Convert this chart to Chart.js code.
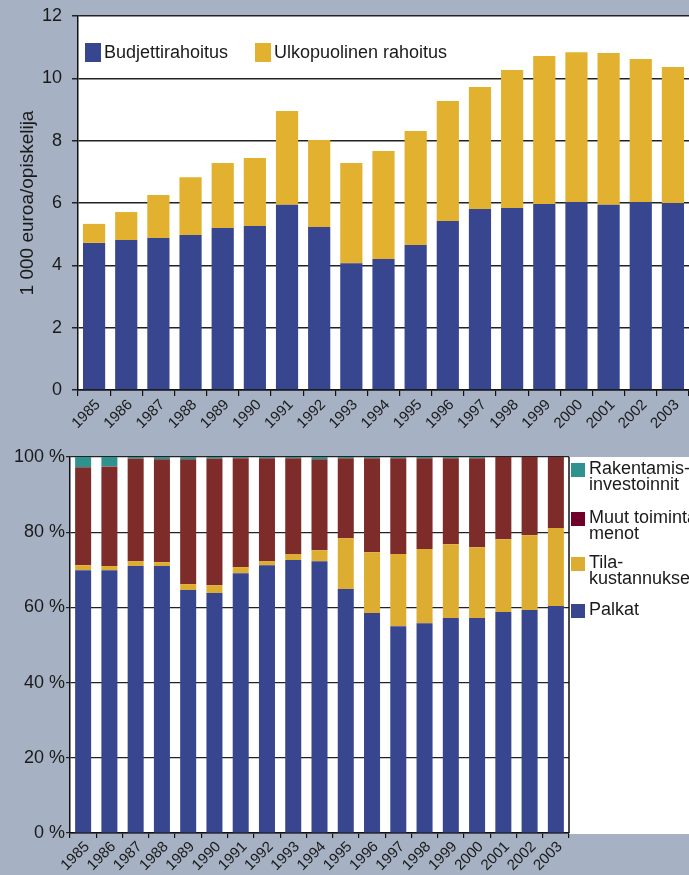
<!DOCTYPE html>
<html>
<head>
<meta charset="utf-8">
<script src="https://cdn.jsdelivr.net/npm/chart.js@4.4.1/dist/chart.umd.min.js"></script>
<style>
html, body { margin: 0; padding: 0; background: #a6b2c4; overflow: hidden; width: 689px; height: 875px;
  font-family: "Liberation Sans", Arial, sans-serif; color: #1a1a1a; }
#topBox { position: absolute; left: 0; top: 0; width: 689px; height: 440px; }
#bottomBox { position: absolute; left: 0; top: 440px; width: 689px; height: 435px; }
.item { position: absolute; white-space: nowrap; }
.sw { position: absolute; }
#sidePanel { position: absolute; left: 569px; top: 457px; width: 120px; height: 377px; background: #fff; }
</style>
</head>
<body>
<div id="topBox"><canvas id="topChart"></canvas></div>
<div id="sidePanel"></div>
<div id="bottomBox"><canvas id="bottomChart"></canvas></div>

<!-- top legend -->
<div class="sw" style="left:85px;top:43px;width:16px;height:19px;background:#38468f"></div>
<div class="item" style="left:104px;top:42px;font-size:18px;line-height:21px">Budjettirahoitus</div>
<div class="sw" style="left:255px;top:43px;width:16px;height:19px;background:#e1b12f"></div>
<div class="item" style="left:274px;top:42px;font-size:18px;line-height:21px">Ulkopuolinen rahoitus</div>

<!-- bottom legend -->
<div class="sw" style="left:571px;top:463px;width:14px;height:14px;background:#2e928f"></div>
<div class="item" style="left:589px;top:460px;font-size:18px;line-height:16px">Rakentamis-<br>investoinnit</div>
<div class="sw" style="left:571px;top:512px;width:14px;height:14px;background:#700028"></div>
<div class="item" style="left:589px;top:509px;font-size:18px;line-height:16px">Muut toiminta-<br>menot</div>
<div class="sw" style="left:571px;top:557px;width:14px;height:14px;background:#ddad31"></div>
<div class="item" style="left:589px;top:554px;font-size:18px;line-height:16px">Tila-<br>kustannukset</div>
<div class="sw" style="left:571px;top:604px;width:14px;height:14px;background:#38468f"></div>
<div class="item" style="left:589px;top:601px;font-size:18px;line-height:16px">Palkat</div>

<script>
const years = ["1985", "1986", "1987", "1988", "1989", "1990", "1991", "1992", "1993", "1994",
  "1995", "1996", "1997", "1998", "1999", "2000", "2001", "2002", "2003"];

// 1 000 euroa / opiskelija
const budjettirahoitus = [4.72, 4.81, 4.88, 4.97, 5.20, 5.26, 5.94, 5.23, 4.07, 4.20,
  4.65, 5.42, 5.81, 5.84, 5.97, 6.03, 5.94, 6.03, 6.00];
const ulkopuolinen = [0.61, 0.90, 1.38, 1.86, 2.08, 2.18, 3.01, 2.79, 3.21, 3.47,
  3.66, 3.85, 3.91, 4.43, 4.75, 4.81, 4.87, 4.59, 4.36];

// osuudet, %
const palkat = [69.9, 69.9, 71.0, 71.0, 64.6, 63.8, 69.1, 71.2, 72.6, 72.3,
  64.9, 58.5, 55.0, 55.8, 57.2, 57.2, 58.8, 59.3, 60.4];
const tilakustannukset = [1.3, 1.1, 1.3, 1.0, 1.6, 2.1, 1.6, 1.1, 1.6, 2.9,
  13.5, 16.2, 19.2, 19.7, 19.6, 18.8, 19.3, 19.9, 20.7];
const muutMenot = [26.1, 26.5, 27.3, 27.4, 33.2, 33.7, 29.0, 27.4, 25.5, 24.2,
  21.3, 25.0, 25.5, 24.2, 22.9, 23.7, 21.9, 20.8, 18.9];
const rakentamis = [2.7, 2.5, 0.4, 0.6, 0.6, 0.4, 0.3, 0.3, 0.3, 0.6,
  0.3, 0.3, 0.3, 0.3, 0.3, 0.3, 0, 0, 0];

const topTicks = [0, 2, 4, 6, 8, 10, 12];
const pctTicks = [0, 20, 40, 60, 80, 100];

Chart.defaults.font.family = '"Liberation Sans", Arial, sans-serif';
Chart.defaults.color = "#1a1a1a";
Chart.defaults.animation = false;
Chart.defaults.responsive = false;

const plotBg = {
  id: "plotBg",
  beforeDraw(chart) {
    const { ctx, chartArea: a } = chart;
    ctx.save();
    ctx.fillStyle = "#fff";
    ctx.fillRect(a.left, a.top, a.right - a.left, a.bottom - a.top);
    ctx.restore();
  },
};

const rightBorder = {
  id: "rightBorder",
  afterDraw(chart) {
    const { ctx, chartArea: a } = chart;
    ctx.save();
    ctx.strokeStyle = "#111";
    ctx.lineWidth = 1.5;
    ctx.beginPath();
    ctx.moveTo(a.right, a.top);
    ctx.lineTo(a.right, a.bottom);
    ctx.stroke();
    ctx.restore();
  },
};

function makeCanvas(id, w, h) {
  const c = document.getElementById(id);
  c.width = w;
  c.height = h;
  return c;
}

function fixWidth(w) {
  return (s) => {
    s.width = w;
    s.paddingTop = 0;
    s.paddingBottom = 0;
  };
}

new Chart(makeCanvas("topChart", 689, 440), {
  type: "bar",
  data: {
    labels: years,
    datasets: [
      { label: "Budjettirahoitus", data: budjettirahoitus, backgroundColor: "#38468f" },
      { label: "Ulkopuolinen rahoitus", data: ulkopuolinen, backgroundColor: "#e1b12f" },
    ],
  },
  options: {
    maintainAspectRatio: false,
    layout: { padding: { top: 16, left: 0, right: 0, bottom: 0 } },
    plugins: { legend: { display: false }, tooltip: { enabled: false } },
    datasets: { bar: { categoryPercentage: 1, barPercentage: 0.69 } },
    scales: {
      x: {
        stacked: true,
        afterFit: (s) => { s.height = 50; },
        grid: { drawOnChartArea: false, tickLength: 6, color: "#111", lineWidth: 1.2 },
        border: { color: "#111", width: 1.5 },
        ticks: { autoSkip: false, minRotation: 45, maxRotation: 45, padding: 0, labelOffset: 4,
          font: { size: 15 } },
      },
      y: {
        stacked: true,
        min: 0,
        max: 12,
        afterFit: fixWidth(78),
        afterBuildTicks: (s) => { s.ticks = topTicks.map((v) => ({ value: v })); },
        grid: { color: "#222", lineWidth: 1.5, tickLength: 6 },
        border: { color: "#111", width: 1.5 },
        ticks: { padding: 10, font: { size: 18 } },
        title: { display: true, text: "1 000 euroa/opiskelija", font: { size: 19 },
          padding: { top: 16, bottom: 0 } },
      },
    },
  },
  plugins: [plotBg],
});

new Chart(makeCanvas("bottomChart", 689, 435), {
  type: "bar",
  data: {
    labels: years,
    datasets: [
      { label: "Palkat", data: palkat, backgroundColor: "#38468f" },
      { label: "Tilakustannukset", data: tilakustannukset, backgroundColor: "#ddad31" },
      { label: "Muut toimintamenot", data: muutMenot, backgroundColor: "#7e2c29" },
      { label: "Rakentamisinvestoinnit", data: rakentamis, backgroundColor: "#2e928f" },
    ],
  },
  options: {
    maintainAspectRatio: false,
    layout: { padding: { top: 17, left: 0, right: 120, bottom: 0 } },
    plugins: { legend: { display: false }, tooltip: { enabled: false } },
    datasets: { bar: { categoryPercentage: 1, barPercentage: 0.61 } },
    scales: {
      x: {
        stacked: true,
        afterFit: (s) => { s.height = 42; },
        grid: { drawOnChartArea: false, tickLength: 5, color: "#111", lineWidth: 1.2 },
        border: { color: "#111", width: 1.5 },
        ticks: { autoSkip: false, minRotation: 45, maxRotation: 45, padding: 0, labelOffset: 4,
          font: { size: 15 } },
      },
      y: {
        stacked: true,
        min: 0,
        max: 100,
        afterFit: fixWidth(70),
        afterBuildTicks: (s) => { s.ticks = pctTicks.map((v) => ({ value: v })); },
        grid: { color: "#222", lineWidth: 1.2, tickLength: 4 },
        border: { color: "#111", width: 1.5 },
        ticks: { padding: 1, font: { size: 18 }, callback: (v) => v + " %" },
      },
    },
  },
  plugins: [plotBg, rightBorder],
});
</script>
</body>
</html>
